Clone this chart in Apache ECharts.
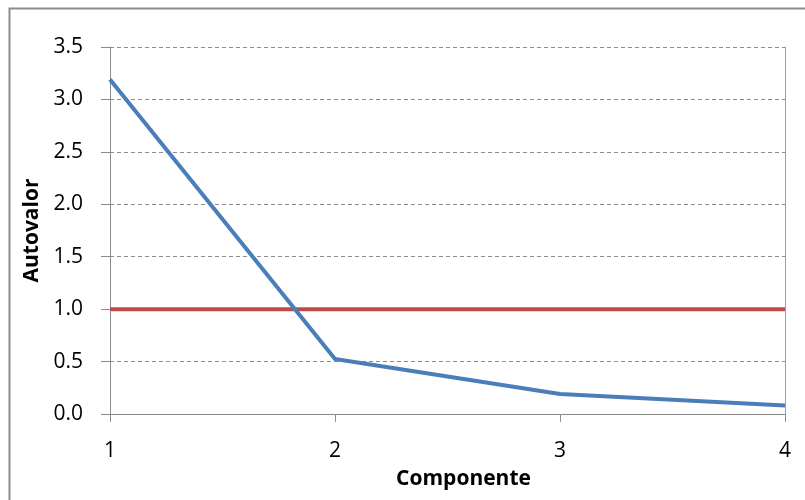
<!DOCTYPE html>
<html><head><meta charset="utf-8">
<script src="https://cdn.jsdelivr.net/npm/echarts@6/dist/echarts.min.js"></script>
<style>html,body{margin:0;padding:0;background:#fff}#c{width:805px;height:500px}</style>
</head><body><div id="c"></div>
<script>
const categories = ['1', '2', '3', '4'];
const eigenvalues = [3.19, 0.525, 0.19, 0.08];
const threshold = [1, 1, 1, 1];
const yTicks = { min: 0, max: 3.5, interval: 0.5 };
const xTitle = 'Componente';
const yTitle = 'Autovalor';

const font = "'Open Sans', 'Noto Sans', sans-serif";
const chart = echarts.init(document.getElementById('c'), null, { renderer: 'canvas' });
chart.setOption({
  animation: false,
  backgroundColor: '#fff',
  graphic: [{
    type: 'rect', shape: { x: 9.5, y: 8.5, width: 820, height: 520 },
    style: { fill: 'none', stroke: '#8c8c8c', lineWidth: 2 }, silent: true, z: -1
  }],
  grid: { left: 110, right: 20, top: 47, bottom: 86, containLabel: false },
  xAxis: {
    type: 'category', data: categories, boundaryGap: false,
    name: xTitle, nameLocation: 'middle', nameGap: 55,
    nameTextStyle: { fontFamily: font, fontWeight: 'bold', fontSize: 21, color: '#000',
      padding: [0, 0, 0, 32] },
    axisLine: { show: true, lineStyle: { color: '#8c8c8c', width: 1 } },
    axisTick: { show: true, length: 8, inside: false, alignWithLabel: true, lineStyle: { color: '#8c8c8c' } },
    axisLabel: { fontFamily: font, fontSize: 21, color: '#000', margin: 27 },
    splitLine: { show: false }
  },
  yAxis: [{
    type: 'value', min: yTicks.min, max: yTicks.max, interval: yTicks.interval,
    name: yTitle, nameLocation: 'middle', nameGap: 66, nameRotate: 90,
    nameTextStyle: { fontFamily: font, fontWeight: 'bold', fontSize: 21, color: '#000' },
    axisLine: { show: true, lineStyle: { color: '#8c8c8c', width: 1 } },
    axisTick: { show: true, length: 9, lineStyle: { color: '#8c8c8c' } },
    axisLabel: { fontFamily: font, fontSize: 21, color: '#000', margin: 27,
      formatter: v => v.toFixed(1) },
    splitLine: { show: true, lineStyle: { color: '#8c8c8c', type: [4, 3], width: 1 } }
  }, {
    type: 'value', position: 'right', min: yTicks.min, max: yTicks.max, interval: yTicks.interval,
    axisLine: { show: true, lineStyle: { color: '#a0a0a0', width: 1 } },
    axisTick: { show: false }, axisLabel: { show: false }, splitLine: { show: false }
  }],
  series: [{
    type: 'line', data: threshold, symbol: 'none',
    lineStyle: { color: '#be4b48', width: 4 }, z: 2
  }, {
    type: 'line', data: eigenvalues, symbol: 'none',
    lineStyle: { color: '#4a7ebb', width: 4 }, z: 3
  }]
});
</script></body></html>
